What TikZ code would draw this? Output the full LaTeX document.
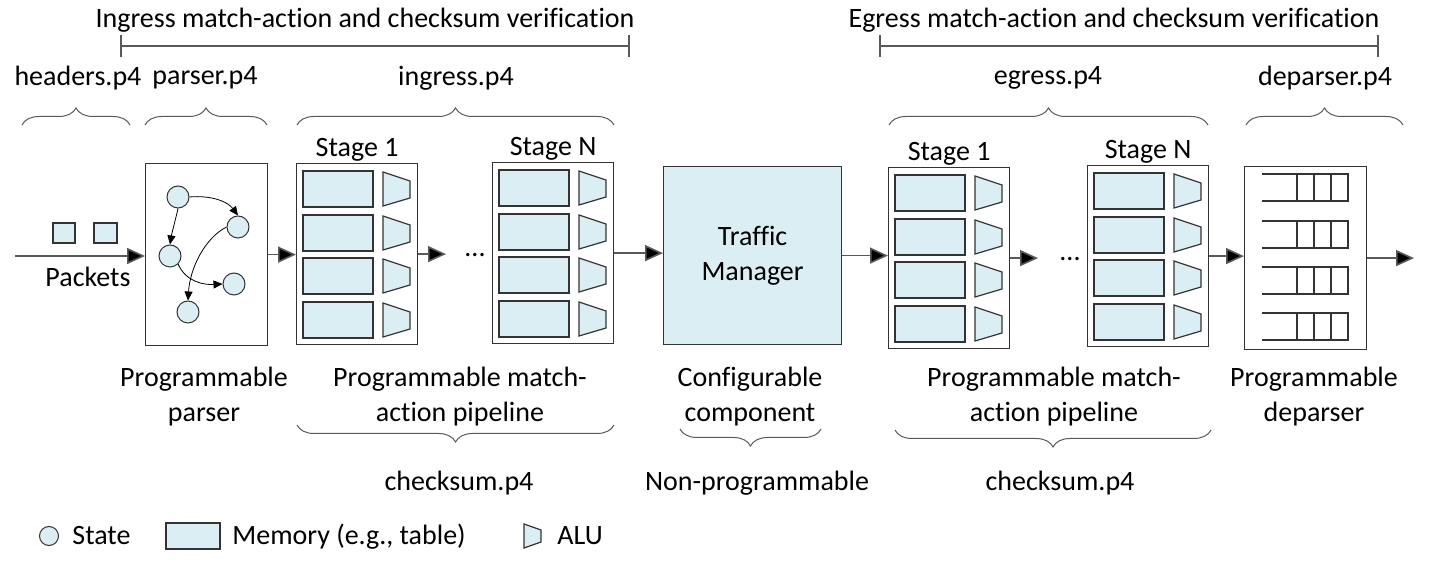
\documentclass[tikz,border=0pt]{standalone}
\usepackage{fontspec}
\setmainfont[Ligatures=NoCommon]{Carlito}
\usetikzlibrary{arrows.meta,decorations.pathreplacing,positioning}
\definecolor{memblue}{RGB}{218,238,243}
\definecolor{linegray}{RGB}{89,89,89}
\tikzset{
  stagebox/.style={draw=black!80, line width=0.6pt, inner sep=0pt},
  mem/.style={draw=black!80, fill=memblue, line width=0.6pt},
  state/.style={circle, draw=black!80, fill=memblue, line width=0.5pt, minimum size=11pt, inner sep=0pt},
  flow/.style={draw=linegray, line width=0.8pt, -{Triangle[length=9pt,width=8pt,fill=black]}},
  thinflow/.style={draw=black, line width=0.4pt, -{Triangle[length=4.5pt,width=4pt]}},
  lbl/.style={font=\fontsize{14}{17.5}\selectfont, align=center, inner sep=0pt},
  braceup/.style={decorate, decoration={brace, amplitude=8.5pt}, draw=linegray, line width=0.5pt},
  bracedown/.style={decorate, decoration={brace, mirror, amplitude=8.5pt}, draw=linegray, line width=0.5pt},
  spanline/.style={draw=linegray, line width=0.8pt, {Bar[width=11pt]}-{Bar[width=11pt]}}
}
% one match-action stage: name, left, top, title
\newcommand{\pipestage}[4]{%
  \node[stagebox, anchor=north west, minimum width=60.5pt, minimum height=90.5pt] (#1) at (#2,#3) {};
  \node[lbl, above=0.5pt of #1] {#4};
  \begin{scope}[shift={(#2,#3)}]
  \foreach \t in {8,52,95,139}{
    \draw[mem] (7,\t) rectangle +(70,36);
    \draw[mem] (87,\t+1) -- (114,\t+10) -- (114,\t+27) -- (87,\t+35) -- cycle;
  }
  \end{scope}}

\begin{document}
\begin{tikzpicture}[x=0.5pt, y=-0.5pt]
\useasboundingbox (0,0) rectangle (1429,565);

% top spans
\coordinate (iL) at (120,46);
\coordinate (iR) at (630,46);
\coordinate (eL) at (879,46);
\coordinate (eR) at (1379,46);
\draw[spanline] (iL) -- (iR);
\draw[spanline] (eL) -- (eR);
\node[lbl] (ingtitle) at (365,20) {Ingress match-action and checksum verification};
\node[lbl] (egtitle) at (1114,20) {Egress match-action and checksum verification};

% p4 files
\node[lbl] (hdrp4) at (78,78) {headers.p4};
\node[lbl] (parp4) at (205,78) {parser.p4};
\node[lbl] (ingp4) at (456,78) {ingress.p4};
\node[lbl] (egp4) at (1048,78) {egress.p4};
\node[lbl] (depp4) at (1325,78) {deparser.p4};
\draw[braceup] (22,125) -- (130,125);
\draw[braceup] (145,125) -- (267,125);
\draw[braceup] (297,125) -- (614,125);
\draw[braceup] (889,125) -- (1208,125);
\draw[braceup] (1246,125) -- (1403,125);

% packets
\draw[mem] (53,223) rectangle (75,243);
\draw[mem] (94,223) rectangle (117,243);
\node[lbl] (pkts) at (88,277) {Packets};

% parser
\node[stagebox, anchor=north west, minimum width=61pt, minimum height=91pt] (parser) at (145,163) {};
\node[state] (s1) at (178,197) {};
\node[state] (s2) at (238,227) {};
\node[state] (s3) at (170,256) {};
\node[state] (s4) at (234,284) {};
\node[state] (s5) at (188,312) {};
\draw[thinflow] (s1.east) .. controls (212,195) and (228,202) .. (s2.north);
\draw[thinflow] (s1.south) .. controls (175,222) and (172,232) .. (s3.north);
\draw[thinflow] (s3.south east) .. controls (186,282) and (204,285) .. (s4.west);
\draw[thinflow] (s2.west) .. controls (205,238) and (190,268) .. (s5.north);

% stages
\pipestage{ing1}{296}{163}{Stage 1}
\pipestage{ingN}{492}{162}{Stage N}
\node[stagebox, lbl, fill=memblue, anchor=north west, minimum width=89pt, minimum height=89pt] (tm) at (663,166) {Traffic\\Manager};
\pipestage{eg1}{888}{167}{Stage 1}
\pipestage{egN}{1087}{165}{Stage N}

% deparser
\node[stagebox, anchor=north west, minimum width=61pt, minimum height=91.5pt] (dep) at (1244,166) {};
\begin{scope}[shift={(1244,166)}]
\foreach \t in {8,55,101,147}{
  \draw[black!80, line width=0.6pt] (18,\t) -- (104,\t) -- (104,\t+27) -- (18,\t+27);
  \foreach \d in {53,70,87}
    \draw[black!80, line width=0.6pt] (\d,\t) -- (\d,\t+27);
}
\end{scope}

% flow
\coordinate (pin) at (15,256);
\coordinate (idots) at (446,250);
\coordinate (edots) at (1038,256);
\coordinate (pout) at (1414,256);
\node[lbl] (dotsin) at (475,255) {...};
\node[lbl] (dotseg) at (1070,259) {...};
\draw[flow] (pin) -- (pin -| parser.west);
\draw[flow] (parser.east) -- (parser.east -| ing1.west);
\draw[flow] (ing1.east) -- (ing1.east -| idots);
\draw[flow] (ingN.east) -- (ingN.east -| tm.west);
\draw[flow] (tm.east) -- (tm.east -| eg1.west);
\draw[flow] (eg1.east) -- (eg1.east -| edots);
\draw[flow] (egN.east) -- (egN.east -| dep.west);
\draw[flow] (dep.east) -- (dep.east -| pout);

% bottom labels
\node[lbl] (parlbl) at (204,397) {Programmable\\parser};
\node[lbl] (inglbl) at (460,397) {Programmable match-\\action pipeline};
\node[lbl] (tmlbl) at (750,397) {Configurable\\component};
\node[lbl] (eglbl) at (1054,397) {Programmable match-\\action pipeline};
\node[lbl] (deplbl) at (1314,397) {Programmable\\deparser};
\draw[bracedown] (297,425) -- (614,425);
\draw[bracedown] (680,429) -- (821,429);
\draw[bracedown] (895,430) -- (1211,430);
\node[lbl] (ingck) at (459,483) {checksum.p4};
\node[lbl] (nonprog) at (757,483) {Non-programmable};
\node[lbl] (egck) at (1060,483) {checksum.p4};

% legend
\node[state, minimum size=9.5pt] (lstate) at (49,536) {};
\node[lbl, anchor=base west] (lstatet) at (72,545) {State};
\draw[mem] (166,523) rectangle (220,549);
\node[lbl, anchor=base west] (lmemt) at (232,545) {Memory (e.g., table)};
\draw[mem] (524,524) -- (541,530) -- (541,542) -- (524,548) -- cycle;
\node[lbl, anchor=base west] (lalut) at (557,545) {ALU};
\end{tikzpicture}
\end{document}
